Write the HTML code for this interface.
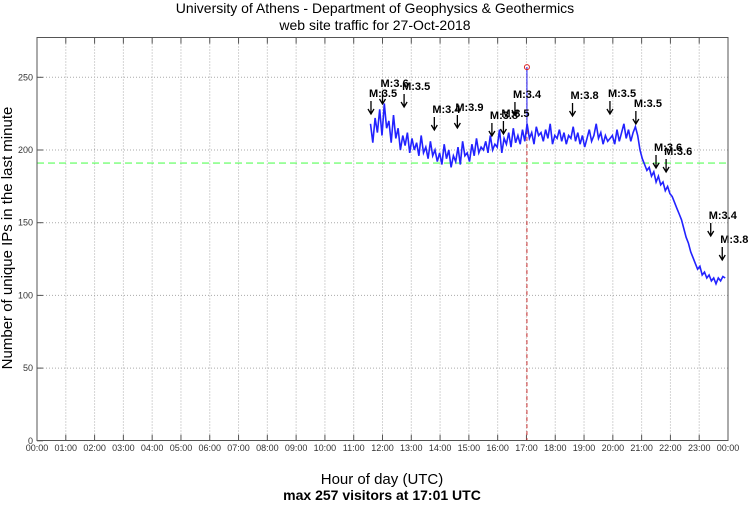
<!DOCTYPE html>
<html><head><meta charset="utf-8"><style>
body{margin:0;background:#fff;width:750px;height:504px;overflow:hidden}
svg text{font-family:"Liberation Sans",sans-serif}
</style></head><body>
<svg id="c" width="750" height="504">
<text x="375" y="13" text-anchor="middle" font-size="14">University of Athens - Department of Geophysics &amp; Geothermics</text>
<text x="375" y="30" text-anchor="middle" font-size="14">web site traffic for 27-Oct-2018</text>
<text x="382" y="484" text-anchor="middle" font-size="15">Hour of day (UTC)</text>
<text x="382" y="500" text-anchor="middle" font-size="14" font-weight="bold">max 257 visitors at 17:01 UTC</text>
<text transform="translate(12,238) rotate(-90)" text-anchor="middle" font-size="15">Number of unique IPs in the last minute</text>
<g id="grid"></g><g id="series"></g><g id="ann"></g>
<rect x="37" y="37.5" width="691" height="403" fill="none" stroke="#555"/>
</svg>
<script>
const yTicks=[0,50,100,150,200,250];
const xHours=[0,1,2,3,4,5,6,7,8,9,10,11,12,13,14,15,16,17,18,19,20,21,22,23,24];
const startHour=11+35/60; const stepMin=4.8;
const traffic=[218,205,222,212,228,210,232,215,220,205,224,208,215,200,210,203,212,198,208,200,205,196,210,198,202,194,206,196,200,192,198,190,204,194,200,188,196,192,202,190,206,196,198,192,204,196,208,198,202,200,206,198,210,200,204,202,214,198,208,204,212,202,215,205,210,204,214,206,218,208,212,204,216,210,212,206,214,208,218,204,210,208,214,206,212,204,210,208,216,206,212,204,210,202,208,214,206,210,218,208,212,204,210,206,208,210,204,214,206,212,218,208,214,206,212,216,210,200,194,190,186,188,182,185,178,182,176,178,172,175,170,168,164,160,156,152,146,140,136,130,126,122,118,120,114,116,112,114,110,112,108,112,110,113,112];
const peakValue=257; const peakHour=17+1/60;
const threshold=191;
const quakeHours=[11.6,12.0,12.75,13.8,14.6,15.8,16.2,16.6,18.6,19.9,20.8,21.5,21.85,23.4,23.8];
const quakeLabels=["M:3.5","M:3.6","M:3.5","M:3.4","M:3.9","M:3.8","M:3.5","M:3.4","M:3.8","M:3.5","M:3.5","M:3.6","M:3.6","M:3.4","M:3.8"];
const quakeY=[97,87,90,113,111,119,117,98,99,97,107,151,155,219,243];
const NS="http://www.w3.org/2000/svg";
const X0=37,X1=728,Y0=440.8,K=1.454;
const xs=h=>X0+(X1-X0)*h/24, ys=v=>Y0-v*K;
function mk(t,a,p){const e=document.createElementNS(NS,t);for(const k in a)e.setAttribute(k,a[k]);p.appendChild(e);return e;}
const g=document.getElementById('grid'),s=document.getElementById('series'),an=document.getElementById('ann');
yTicks.forEach(v=>{const y=ys(v);
 if(v>0){const l=mk('line',{x1:X0,x2:X1,y1:y,y2:y,stroke:'#aaa','stroke-dasharray':'1,2'},g);}
 mk('line',{x1:X0,x2:X0+6,y1:y,y2:y,stroke:'#555'},g);
 const t=mk('text',{x:X0-4,y:y+3,'text-anchor':'end','font-size':9,fill:'#333'},g);t.textContent=v;
 });
xHours.forEach(h=>{const x=xs(h);
 if(h>0&&h<24){const l=mk('line',{x1:x,x2:x,y1:37.5,y2:Y0,stroke:'#aaa','stroke-dasharray':'1,2'},g);
 mk('line',{x1:x,x2:x,y1:Y0,y2:Y0-6,stroke:'#555'},g);mk('line',{x1:x,x2:x,y1:37.5,y2:43.5,stroke:'#555'},g);}
 const t=mk('text',{x:x,y:451,'text-anchor':'middle','font-size':9,fill:'#333'},g);t.textContent=String(h%24).padStart(2,'0')+':00';
 });
const th=mk('line',{x1:X0,x2:X1,y1:ys(threshold),y2:ys(threshold),stroke:'#7f7','stroke-width':1.3,'stroke-dasharray':'7,4'},s);

const pv=mk('line',{x1:xs(peakHour),x2:xs(peakHour),y1:ys(peakValue),y2:Y0,stroke:'#c33','stroke-dasharray':'4,3'},s);

let d='';traffic.forEach((v,i)=>{d+=(i?'L':'M')+xs(startHour+i*stepMin/60).toFixed(1)+','+ys(v).toFixed(1);});
const p=mk('path',{d:d,fill:'none',stroke:'#22f','stroke-width':1.6},s);

mk('line',{x1:xs(peakHour),x2:xs(peakHour),y1:ys(peakValue),y2:ys(215),stroke:'#22f'},s);
const pc=mk('circle',{cx:xs(peakHour),cy:ys(peakValue),r:2.5,fill:'none',stroke:'#d22'},s);

quakeHours.forEach((h,i)=>{const x=xs(h),y=quakeY[i];
 const t=mk('text',{x:x-2,y:y,'font-size':11,'font-weight':'bold'},an);t.textContent=quakeLabels[i];
 
 const a=mk('path',{d:`M${x},${y+4}V${y+17}M${x-3},${y+12}L${x},${y+17}L${x+3},${y+12}`,fill:'none',stroke:'#000','stroke-width':1.3},an);
 });
</script>
</body></html>
